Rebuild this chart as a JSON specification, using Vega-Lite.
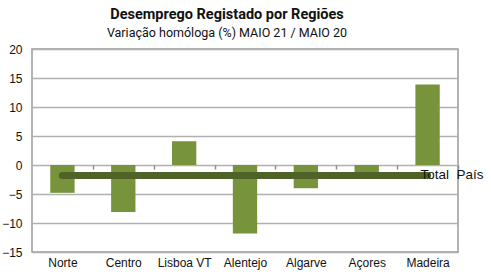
{
  "$schema": "https://vega.github.io/schema/vega-lite/v6.json",
  "width": 426,
  "height": 203,
  "autosize": {"type": "none"},
  "padding": {"left": 32, "top": 49, "right": 33, "bottom": 27},
  "background": "white",
  "title": {
    "text": "Desemprego Registado por Regiões",
    "subtitle": "Variação homóloga (%) MAIO 21 / MAIO 20",
    "anchor": "middle",
    "dx": -18,
    "offset": 3,
    "font": "Roboto",
    "fontSize": 14.5,
    "fontWeight": "bold",
    "color": "#111111",
    "subtitleFont": "Roboto",
    "subtitleFontSize": 12.5,
    "subtitleColor": "#111111",
    "subtitlePadding": 4
  },
  "config": {
    "view": {"stroke": "#9a9a9a", "strokeWidth": 1.5},
    "axis": {"labelFont": "Liberation Sans", "labelColor": "#111111"}
  },
  "datasets": {
    "regions": [
      {"region": "Norte", "value": -4.8},
      {"region": "Centro", "value": -8.1},
      {"region": "Lisboa VT", "value": 4.1},
      {"region": "Alentejo", "value": -11.8},
      {"region": "Algarve", "value": -4.0},
      {"region": "Açores", "value": -1.5},
      {"region": "Madeira", "value": 13.9}
    ],
    "total": [
      {"region": "Norte", "value": -1.8},
      {"region": "Centro", "value": -1.8},
      {"region": "Lisboa VT", "value": -1.8},
      {"region": "Alentejo", "value": -1.8},
      {"region": "Algarve", "value": -1.8},
      {"region": "Açores", "value": -1.8},
      {"region": "Madeira", "value": -1.8}
    ],
    "label": [
      {"region": "Madeira", "value": -1.8, "text": "Total\u00a0 País"}
    ]
  },
  "encoding": {
    "x": {
      "field": "region",
      "type": "nominal",
      "sort": ["Norte", "Centro", "Lisboa VT", "Alentejo", "Algarve", "Açores", "Madeira"],
      "scale": {"paddingInner": 0.6, "paddingOuter": 0.3},
      "axis": {
        "title": null,
        "offset": -87,
        "domain": false,
        "ticks": true,
        "tickOffset": 30.43,
        "labelOffset": -30.43,
        "tickSize": 4,
        "tickColor": "#8c8c8c",
        "tickWidth": 1.5,
        "labelPadding": 88,
        "labelFontSize": 12,
        "labelAngle": 0,
        "labelOverlap": false,
        "zindex": 0
      }
    },
    "y": {
      "field": "value",
      "type": "quantitative",
      "scale": {"domain": [-15, 20], "nice": false, "zero": false},
      "axis": {
        "title": null,
        "values": [-15, -10, -5, 0, 5, 10, 15, 20],
        "grid": true,
        "gridColor": "#b0b0b0",
        "gridWidth": 1.5,
        "domain": false,
        "ticks": false,
        "labelPadding": 10,
        "labelFontSize": 12,
        "labelOverlap": false,
        "labelFlush": false
      }
    }
  },
  "layer": [
    {
      "data": {"name": "regions"},
      "mark": {"type": "bar", "color": "#77933c"}
    },
    {
      "data": {"name": "total"},
      "mark": {"type": "line", "color": "#4f6228", "strokeWidth": 7, "strokeCap": "round"}
    },
    {
      "data": {"name": "label"},
      "mark": {"type": "text", "align": "left", "baseline": "middle", "dx": -7, "fontSize": 13.5, "font": "Liberation Sans", "color": "#111111"},
      "encoding": {
        "text": {"field": "text"}
      }
    }
  ]
}
